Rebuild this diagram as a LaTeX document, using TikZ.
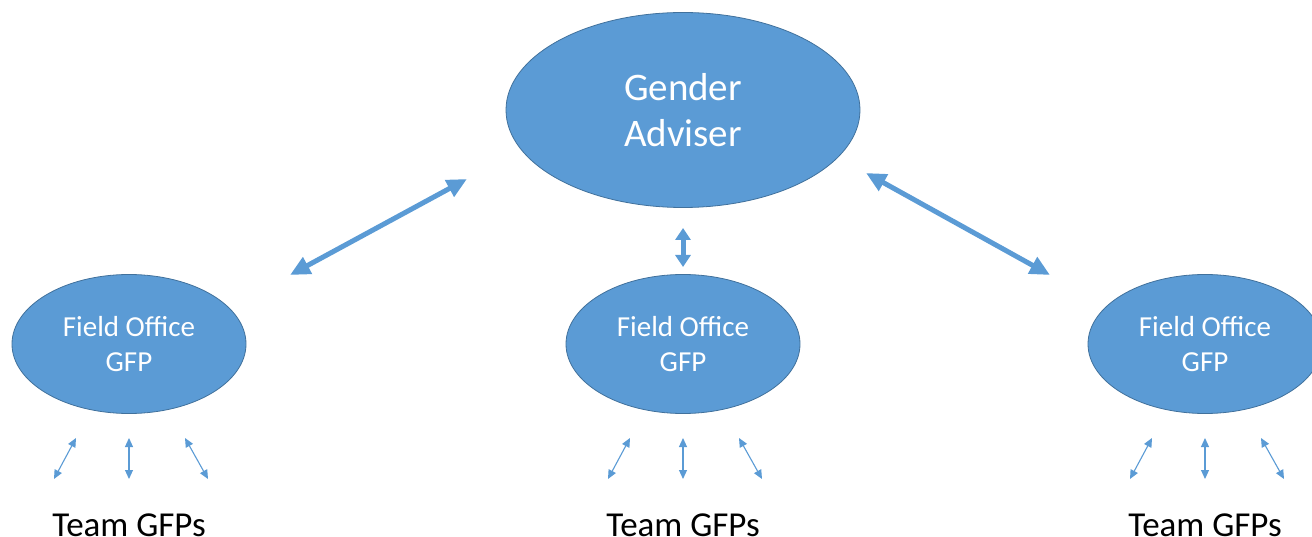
\documentclass[tikz,border=0pt]{standalone}
\usepackage{fontspec}
\setmainfont{Carlito}
\usetikzlibrary{arrows.meta,shapes.geometric,calc}
\definecolor{OfficeBlue}{RGB}{91,155,213}
\definecolor{OfficeEdge}{RGB}{65,113,156}
\tikzset{
  office/.style={ellipse,draw=OfficeEdge,fill=OfficeBlue,line width=0.8pt,
    text=white,align=center,inner sep=0pt},
  field/.style={office,minimum width=234pt,minimum height=139pt,
    font=\fontsize{29}{35}\selectfont},
  team/.style={anchor=base,font=\fontsize{35}{40}\selectfont},
  bigarrow/.style={{Triangle[length=20pt,width=18pt]}-{Triangle[length=20pt,width=18pt]},
    OfficeBlue,line width=5pt},
  midarrow/.style={{Triangle[length=12pt,width=15pt]}-{Triangle[length=12pt,width=15pt]},
    OfficeBlue,line width=5pt},
  smallarrow/.style={{Triangle[length=9pt,width=8pt]}-{Triangle[length=9pt,width=8pt]},
    OfficeBlue,line width=1.1pt},
}

\begin{document}
\begin{tikzpicture}[x=1pt,y=-1pt]
      \useasboundingbox (0,0) rectangle (1312,537);
      % adviser and the three field offices
      \node[office,minimum width=354pt,minimum height=195pt,
        font=\fontsize{39}{46}\selectfont] (adviser) at (683,110) {Gender\\Adviser};
      \node[field] (fieldL) at (129,344) {Field Office\\GFP};
      \node[field] (fieldM) at (683,344) {Field Office\\GFP};
      \node[field] (fieldR) at (1205,344) {Field Office\\GFP};
      \node[team] (teamL) at (129,536) {Team GFPs};
      \node[team] (teamM) at (683,536) {Team GFPs};
      \node[team] (teamR) at (1205,536) {Team GFPs};
      % links to the adviser
      \coordinate (linkLa) at (290,275);
      \coordinate (linkLb) at (467,179);
      \coordinate (linkRa) at (866,173);
      \coordinate (linkRb) at (1050,275);
      \coordinate (linkMa) at (683,228);
      \coordinate (linkMb) at (683,267);
      \draw[bigarrow] (linkLa) -- (linkLb);
      \draw[bigarrow] (linkRa) -- (linkRb);
      \draw[midarrow] (linkMa) -- (linkMb);
      % links to the teams
      \foreach \g/\x in {L/129,M/683,R/1205}{
        \coordinate (a1\g) at (\x-75,479);
        \coordinate (b1\g) at (\x-53,438);
        \coordinate (a2\g) at (\x,438);
        \coordinate (b2\g) at (\x,479);
        \coordinate (a3\g) at (\x+56,438);
        \coordinate (b3\g) at (\x+79,479);
        \draw[smallarrow] (a1\g) -- (b1\g);
        \draw[smallarrow] (a2\g) -- (b2\g);
        \draw[smallarrow] (a3\g) -- (b3\g);
      }
    \end{tikzpicture}
\end{document}
